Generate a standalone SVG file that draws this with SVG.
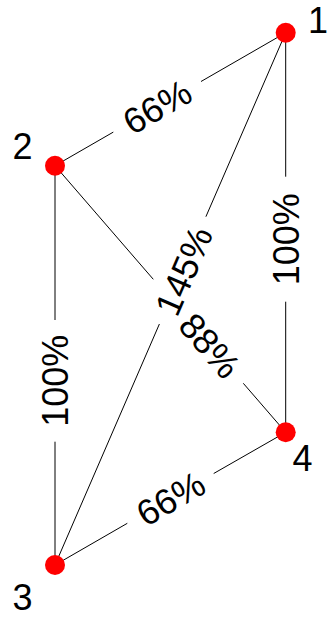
<svg xmlns="http://www.w3.org/2000/svg" width="328" height="619" viewBox="0 0 328 619">
<style>
.edge{stroke:#000;stroke-width:1;fill:none}
.node{fill:#ff0000}
.nl{font-family:"Liberation Sans",Arial,sans-serif;font-size:36px;fill:#000;text-anchor:middle}
.el{font-family:"Liberation Sans",Arial,sans-serif;font-size:36px;fill:#000;text-anchor:middle}
</style>
<rect width="328" height="619" fill="#fff"/>
<g id="connectors">
<g id="e12"><path class="edge" d="M285.7,32.7L201,81.5M113.3,132.1L55,165.7"/><text class="el" transform="translate(157,106.5) rotate(-29.96)" y="12.9">66%</text></g>
<g id="e14"><path class="edge" d="M285.7,32.7V176.7M285.7,301.7V432.3"/><text class="el" transform="translate(285.7,239.2) rotate(-90)" y="12.9">100%</text></g>
<g id="e23"><path class="edge" d="M55,165.7V320M55,441.7V565"/><text class="el" transform="translate(55,380.8) rotate(-90)" y="12.9">100%</text></g>
<g id="e34"><path class="edge" d="M55,565L127.3,523.3M213.7,473.5L285.7,432.3"/><text class="el" transform="translate(170.5,498.4) rotate(-29.96)" y="12.9">66%</text></g>
<g id="e13"><path class="edge" d="M285.7,32.7L205.9,216.7M159.4,324L55,565"/><text class="el" transform="translate(183.5,270.8) rotate(-66.57)" y="12.9">145%</text></g>
<g id="e24"><path class="edge" d="M55,165.7L153.3,279.3M243.3,383.3L285.7,432.3"/><text class="el" transform="translate(210,345.5) rotate(49.13)" y="12.9">88%</text></g>
</g>
<g id="n1"><circle class="node" cx="285.7" cy="32.7" r="10"/><text class="nl" x="328" y="33" style="text-anchor:end">1</text></g>
<g id="n2"><circle class="node" cx="55" cy="165.7" r="10"/><text class="nl" x="22.5" y="159">2</text></g>
<g id="n3"><circle class="node" cx="55" cy="565" r="10"/><text class="nl" x="22.5" y="609.5">3</text></g>
<g id="n4"><circle class="node" cx="285.7" cy="432.3" r="10"/><text class="nl" x="302.5" y="470.5">4</text></g>
</svg>
